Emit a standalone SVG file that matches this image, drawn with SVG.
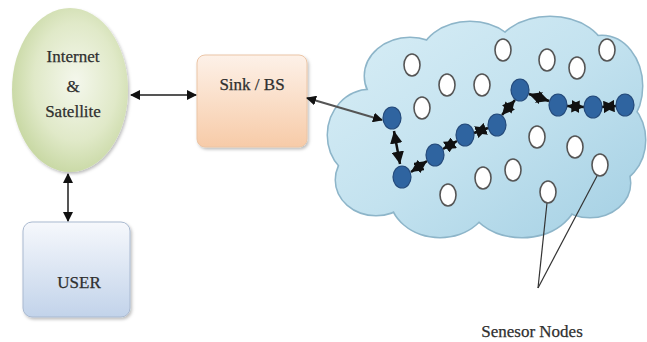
<svg xmlns="http://www.w3.org/2000/svg" width="647" height="342" viewBox="0 0 647 342">
  <style>
    .label { font-family: "Liberation Serif", "Times New Roman", serif; font-size: 17px; fill: #2f2f2f; stroke: #2f2f2f; stroke-width: 0.25; text-anchor: middle; }
    .link { stroke: #555; stroke-width: 2; fill: none; marker-start: url(#head); marker-end: url(#head); }
    .hop { stroke: #111; stroke-width: 2.5; fill: none; marker-start: url(#hop); marker-end: url(#hop); }
    .idle { fill: #ffffff; stroke: #555; stroke-width: 1.6; }
    .active { fill: #2f64a0; stroke: #23497a; stroke-width: 1.2; }
    .puff { fill: url(#cloudFill); }
    .puffEdge { fill: none; stroke: #8db5c9; stroke-width: 3; }
    .pointer { stroke: #333; stroke-width: 1.2; fill: none; }
  </style>
  <defs>
    <marker id="head" viewBox="0 0 10 10" refX="9" refY="5" markerWidth="5" markerHeight="5" orient="auto-start-reverse">
      <path d="M0,0 L10,5 L0,10 z" fill="#111"/>
    </marker>
    <marker id="hop" viewBox="0 0 10 10" refX="10" refY="5" markerWidth="5" markerHeight="5" orient="auto-start-reverse">
      <path d="M0,0 L10,5 L0,10 z" fill="#111"/>
    </marker>
    <radialGradient id="globeFill" cx="0.55" cy="0.45" r="0.6">
      <stop offset="0" stop-color="#f4f7ec"/>
      <stop offset="0.6" stop-color="#e0e9c8"/>
      <stop offset="1" stop-color="#c5d69f"/>
    </radialGradient>
    <linearGradient id="sinkFill" x1="0" y1="0" x2="0" y2="1">
      <stop offset="0" stop-color="#fdf1e8"/>
      <stop offset="1" stop-color="#f7cba8"/>
    </linearGradient>
    <linearGradient id="userFill" x1="0" y1="0" x2="0" y2="1">
      <stop offset="0" stop-color="#f6f8fc"/>
      <stop offset="1" stop-color="#c2d3ea"/>
    </linearGradient>
    <linearGradient id="cloudFill" x1="0" y1="0" x2="1" y2="1" gradientUnits="userSpaceOnUse" gradientTransform="translate(330 15) scale(315 225)">
      <stop offset="0" stop-color="#d9eef6"/>
      <stop offset="0.5" stop-color="#c3e2ef"/>
      <stop offset="1" stop-color="#a3cfe3"/>
    </linearGradient>
    <filter id="shade" x="-10%" y="-10%" width="125%" height="125%">
      <feDropShadow dx="1.5" dy="2" stdDeviation="1.5" flood-color="#000" flood-opacity="0.25"/>
    </filter>
  </defs>

  <!-- cloud of the sensor field -->
  <g id="sensor-field">
    <g class="puffEdge">
      <ellipse cx="370" cy="135" rx="42" ry="45"/>
      <ellipse cx="410" cy="76" rx="45" ry="38"/>
      <ellipse cx="470" cy="60" rx="50" ry="38"/>
      <ellipse cx="550" cy="55" rx="55" ry="38"/>
      <ellipse cx="602" cy="86" rx="40" ry="50"/>
      <ellipse cx="606" cy="140" rx="39" ry="45"/>
      <ellipse cx="590" cy="183" rx="40" ry="34"/>
      <ellipse cx="522" cy="195" rx="55" ry="42"/>
      <ellipse cx="440" cy="195" rx="50" ry="42"/>
      <ellipse cx="376" cy="180" rx="40" ry="35"/>
    </g>
    <g class="puff">
      <ellipse cx="370" cy="135" rx="42" ry="45"/>
      <ellipse cx="410" cy="76" rx="45" ry="38"/>
      <ellipse cx="470" cy="60" rx="50" ry="38"/>
      <ellipse cx="550" cy="55" rx="55" ry="38"/>
      <ellipse cx="602" cy="86" rx="40" ry="50"/>
      <ellipse cx="606" cy="140" rx="39" ry="45"/>
      <ellipse cx="590" cy="183" rx="40" ry="34"/>
      <ellipse cx="522" cy="195" rx="55" ry="42"/>
      <ellipse cx="440" cy="195" rx="50" ry="42"/>
      <ellipse cx="376" cy="180" rx="40" ry="35"/>
      <ellipse cx="490" cy="130" rx="115" ry="80"/>
    </g>
  </g>

  <!-- Internet & Satellite -->
  <g id="internet">
    <ellipse cx="70" cy="90" rx="58" ry="82" fill="url(#globeFill)" filter="url(#shade)"/>
    <text class="label" x="73" y="62">Internet</text>
    <text class="label" x="73" y="92">&amp;</text>
    <text class="label" x="73" y="117">Satellite</text>
  </g>

  <!-- Sink / Base station -->
  <g id="sink">
    <rect x="197" y="55" width="110" height="92" rx="8" fill="url(#sinkFill)" stroke="#ebc5a6" stroke-width="1" filter="url(#shade)"/>
    <text class="label" x="252" y="90">Sink / BS</text>
  </g>

  <!-- User terminal -->
  <g id="user">
    <rect x="23" y="222" width="107" height="95" rx="9" fill="url(#userFill)" stroke="#a9b9d0" stroke-width="1" filter="url(#shade)"/>
    <text class="label" x="79" y="288">USER</text>
  </g>

  <!-- links between blocks and along the routing path -->
  <g id="connectors">
    <line class="link" x1="131" y1="95" x2="196" y2="95"/>
    <line class="link" x1="68" y1="174" x2="68" y2="221"/>
    <line class="link" x1="307" y1="98" x2="382" y2="120"/>

    <line class="hop" x1="394" y1="131" x2="400" y2="164"/>
    <line class="hop" x1="411" y1="172" x2="427" y2="161"/>
    <line class="hop" x1="443" y1="149" x2="457" y2="141"/>
    <line class="hop" x1="474" y1="133" x2="488" y2="128"/>
    <line class="hop" x1="502" y1="115" x2="515" y2="100"/>
    <line class="hop" x1="529" y1="94" x2="549" y2="101"/>
    <line class="hop" x1="567" y1="106" x2="584" y2="107"/>
    <line class="hop" x1="602" y1="107" x2="616" y2="106"/>

    <line class="pointer" x1="547" y1="203" x2="538" y2="288"/>
    <line class="pointer" x1="597" y1="176" x2="538" y2="288"/>
  </g>

  <!-- sensor nodes not on the route -->
  <g id="idle-nodes">
    <ellipse class="idle" cx="412" cy="65" rx="8" ry="11"/>
    <ellipse class="idle" cx="447" cy="85" rx="8" ry="11"/>
    <ellipse class="idle" cx="482" cy="85" rx="8" ry="11"/>
    <ellipse class="idle" cx="503" cy="50" rx="8" ry="11"/>
    <ellipse class="idle" cx="547" cy="60" rx="8" ry="11"/>
    <ellipse class="idle" cx="577" cy="68" rx="8" ry="11"/>
    <ellipse class="idle" cx="607" cy="50" rx="8" ry="11"/>
    <ellipse class="idle" cx="422" cy="108" rx="8" ry="11"/>
    <ellipse class="idle" cx="537" cy="137" rx="8" ry="11"/>
    <ellipse class="idle" cx="575" cy="147" rx="8" ry="11"/>
    <ellipse class="idle" cx="600" cy="165" rx="8" ry="11"/>
    <ellipse class="idle" cx="513" cy="170" rx="8" ry="11"/>
    <ellipse class="idle" cx="483" cy="178" rx="8" ry="11"/>
    <ellipse class="idle" cx="448" cy="195" rx="8" ry="11"/>
    <ellipse class="idle" cx="548" cy="192" rx="8" ry="11"/>
  </g>

  <!-- sensor nodes forming the route to the sink -->
  <g id="route-nodes">
    <ellipse class="active" cx="392" cy="118" rx="9" ry="11"/>
    <ellipse class="active" cx="402" cy="177" rx="9" ry="11"/>
    <ellipse class="active" cx="435" cy="155" rx="9" ry="11"/>
    <ellipse class="active" cx="465" cy="135" rx="9" ry="11"/>
    <ellipse class="active" cx="497" cy="125" rx="9" ry="11"/>
    <ellipse class="active" cx="520" cy="90" rx="9" ry="11"/>
    <ellipse class="active" cx="558" cy="105" rx="9" ry="11"/>
    <ellipse class="active" cx="593" cy="107" rx="9" ry="11"/>
    <ellipse class="active" cx="625" cy="105" rx="9" ry="11"/>
  </g>

  <g id="sensor-label">
    <text class="label" x="532" y="337">Senesor Nodes</text>
  </g>
</svg>
